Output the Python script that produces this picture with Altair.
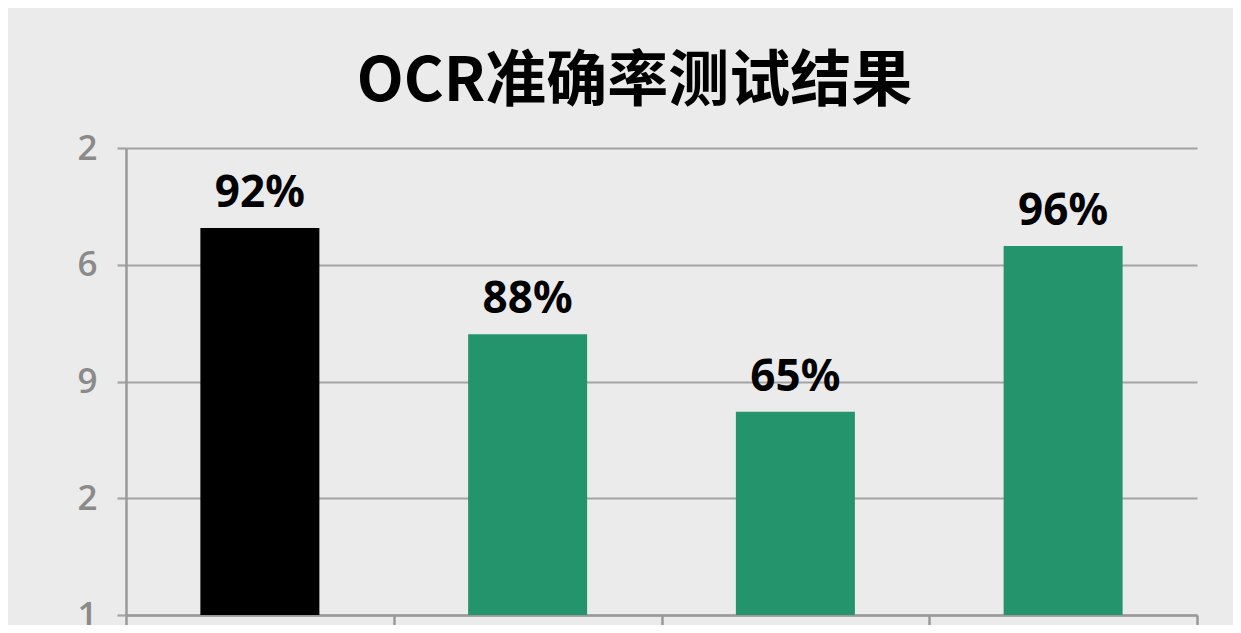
import altair as alt
import pandas as pd

# ---- data ----
categories = ["方案A", "方案B", "方案C", "方案D"]
bar_heights = [3.315, 2.405, 1.74, 3.16]       # bar heights in axis units (0-4)
value_labels = ["92%", "88%", "65%", "96%"]
bar_colors = ["#000000", "#23946b", "#23946b", "#23946b"]
y_tick_labels = ["1", "2", "9", "6", "2"]        # bottom to top
title_text = "OCR准确率测试结果"

df = pd.DataFrame({
    "category": categories,
    "height": bar_heights,
    "label": value_labels,
})

label_expr = "[" + ",".join("'%s'" % t for t in y_tick_labels) + "][datum.value]"

base = alt.Chart(df).transform_window(
    idx="row_number()"
).transform_calculate(
    pos="datum.idx - 0.5"
)

x_enc = alt.X(
    "pos:Q",
    scale=alt.Scale(domain=[0, len(categories)], nice=False, zero=False, padding=0),
    axis=alt.Axis(
        values=list(range(len(categories) + 1)),
        labels=False, title=None, grid=False,
        tickSize=15, tickWidth=2.5, tickColor="#999999",
        domainColor="#9a9a9a", domainWidth=2.5,
    ),
)
y_enc = alt.Y(
    "height:Q",
    scale=alt.Scale(domain=[0, 4], nice=False),
    axis=alt.Axis(
        values=[0, 1, 2, 3, 4], labelExpr=label_expr, title=None,
        grid=True, gridColor="#a3a3a3", gridWidth=2.2,
        tickSize=9, tickWidth=2.2, tickColor="#a3a3a3",
        domainColor="#9a9a9a", domainWidth=2.5,
        labelFont="Open Sans", labelFontSize=35, labelFontWeight=600,
        labelColor="#8a8a8a", labelPadding=20,
    ),
)

bars = base.mark_bar(size=119).encode(
    x=x_enc,
    y=y_enc,
    color=alt.Color("category:N", scale=alt.Scale(domain=categories, range=bar_colors), legend=None),
)

texts = base.mark_text(
    baseline="alphabetic", dy=-21, font="Noto Sans", fontSize=44,
    fontWeight="bold", color="#000000",
).encode(
    x="pos:Q",
    y="height:Q",
    text="label:N",
)

chart = alt.layer(bars, texts).properties(
    width=1071,
    height=467,
    autosize=alt.AutoSizeParams(type="none"),
    padding={"left": 118, "top": 140, "right": 36, "bottom": 10},
    background="#ebebeb",
    title=alt.TitleParams(
        text=title_text, font="Noto Sans CJK SC", fontSize=61, fontWeight="bold",
        color="#000000", anchor="middle", dx=-27, offset=-31, baseline="alphabetic",
    ),
).configure_view(stroke=None)

chart.save("out.html", embed_options={"renderer": "svg", "actions": False})
